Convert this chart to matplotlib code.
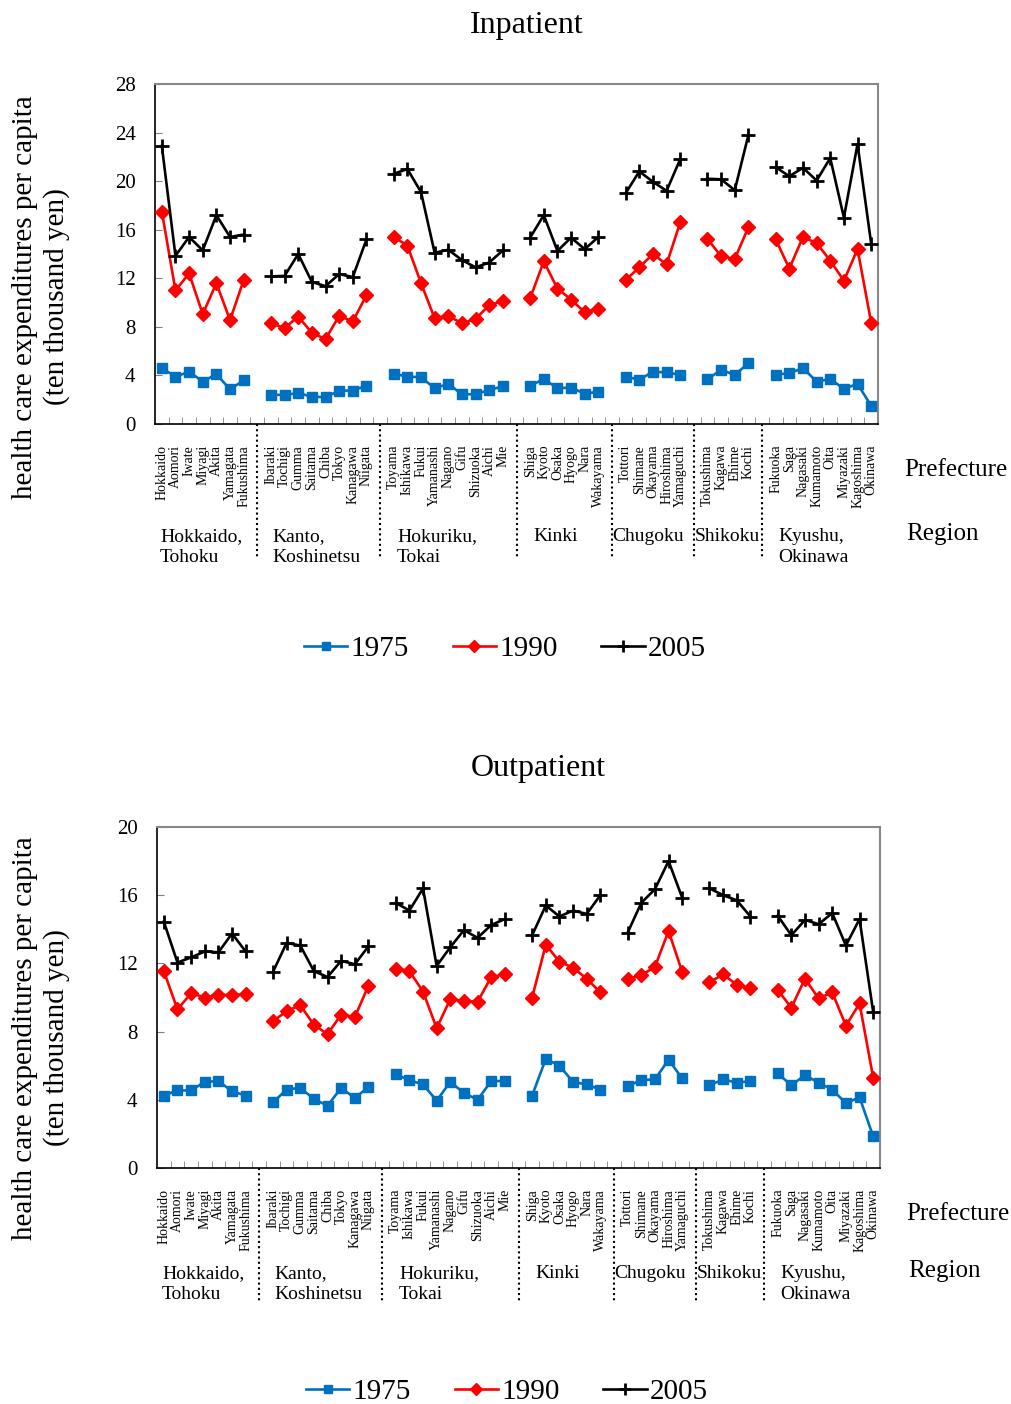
import numpy as np
import matplotlib
matplotlib.use("Agg")
import matplotlib.pyplot as plt
from matplotlib.lines import Line2D

plt.rcParams['font.family'] = ['Liberation Serif', 'DejaVu Serif']

# regions and prefectures (in chart order)
regions = ["Hokkaido,\nTohoku", "Kanto,\nKoshinetsu", "Hokuriku,\nTokai", "Kinki",
           "Chugoku", "Shikoku", "Kyushu,\nOkinawa"]
region_prefs = [
    ["Hokkaido", "Aomori", "Iwate", "Miyagi", "Akita", "Yamagata", "Fukushima"],
    ["Ibaraki", "Tochigi", "Gumma", "Saitama", "Chiba", "Tokyo", "Kanagawa", "Niigata"],
    ["Toyama", "Ishikawa", "Fukui", "Yamanashi", "Nagano", "Gifu", "Shizuoka", "Aichi", "Mie"],
    ["Shiga", "Kyoto", "Osaka", "Hyogo", "Nara", "Wakayama"],
    ["Tottori", "Shimane", "Okayama", "Hiroshima", "Yamaguchi"],
    ["Tokushima", "Kagawa", "Ehime", "Kochi"],
    ["Fukuoka", "Saga", "Nagasaki", "Kumamoto", "Oita", "Miyazaki", "Kagoshima", "Okinawa"],
]
years = ["1975", "1990", "2005"]

# inpatient, ten thousand yen per capita
in_1975 = [4.6, 3.9, 4.3, 3.5, 4.1, 2.85, 3.6,
           2.4, 2.4, 2.55, 2.25, 2.2, 2.75, 2.75, 3.15,
           4.15, 3.9, 3.85, 2.95, 3.3, 2.45, 2.45, 2.8, 3.1,
           3.15, 3.7, 2.95, 3.0, 2.5, 2.65,
           3.9, 3.65, 4.3, 4.25, 4.05,
           3.7, 4.45, 4.05, 5.0,
           4.05, 4.2, 4.6, 3.5, 3.7, 2.9, 3.3, 1.5]
in_1990 = [17.5, 11.0, 12.4, 9.05, 11.6, 8.55, 11.85,
           8.3, 7.9, 8.85, 7.5, 7.0, 8.9, 8.45, 10.6,
           15.4, 14.7, 11.6, 8.7, 8.9, 8.3, 8.65, 9.8, 10.1,
           10.35, 13.4, 11.15, 10.25, 9.2, 9.5,
           11.85, 12.9, 14.0, 13.15, 16.6,
           15.25, 13.8, 13.6, 16.2,
           15.2, 12.8, 15.4, 14.9, 13.45, 11.8, 14.4, 8.35]
in_2005 = [22.9, 13.85, 15.4, 14.3, 17.2, 15.4, 15.6,
           12.15, 12.2, 14.0, 11.7, 11.35, 12.35, 12.1, 15.2,
           20.6, 21.0, 19.1, 14.1, 14.35, 13.5, 12.9, 13.3, 14.3,
           15.35, 17.2, 14.25, 15.35, 14.4, 15.4,
           19.0, 20.8, 19.95, 19.2, 21.8,
           20.2, 20.15, 19.25, 23.8,
           21.15, 20.4, 21.1, 20.05, 21.9, 17.0, 23.05, 14.85]

# outpatient
out_1975 = [4.25, 4.55, 4.55, 5.05, 5.1, 4.5, 4.25,
            3.85, 4.6, 4.7, 4.05, 3.65, 4.7, 4.1, 4.75,
            5.5, 5.15, 4.9, 3.95, 5.05, 4.4, 4.0, 5.1, 5.1,
            4.25, 6.4, 6.0, 5.05, 4.9, 4.6,
            4.8, 5.15, 5.2, 6.35, 5.25,
            4.85, 5.2, 5.0, 5.1,
            5.55, 4.85, 5.45, 5.0, 4.6, 3.8, 4.15, 1.85]
out_1990 = [11.55, 9.3, 10.25, 10.0, 10.15, 10.15, 10.2,
            8.6, 9.2, 9.55, 8.4, 7.85, 9.0, 8.85, 10.7,
            11.7, 11.55, 10.35, 8.2, 9.9, 9.8, 9.75, 11.2, 11.35,
            10.0, 13.1, 12.1, 11.75, 11.1, 10.3,
            11.1, 11.3, 11.8, 13.9, 11.5,
            10.9, 11.35, 10.75, 10.55,
            10.45, 9.4, 11.1, 9.95, 10.3, 8.35, 9.65, 5.3]
out_2005 = [14.45, 12.05, 12.35, 12.7, 12.65, 13.75, 12.7,
            11.5, 13.2, 13.05, 11.55, 11.2, 12.15, 11.95, 13.0,
            15.55, 15.1, 16.4, 11.85, 12.95, 13.95, 13.5, 14.25, 14.6,
            13.65, 15.4, 14.75, 15.1, 14.9, 16.0,
            13.8, 15.55, 16.35, 18.0, 15.85,
            16.4, 16.0, 15.7, 14.75,
            14.8, 13.65, 14.55, 14.3, 14.95, 13.05, 14.6, 9.15]

colors = ["#0070C0", "#FF0000", "#000000"]
markers = ["s", "D", "+"]
msizes = [7.5, 7, 10]

# build slots: one empty slot between regions (line breaks there)
labels = []
gap_slots = []
region_start = []
for i, prefs in enumerate(region_prefs):
    if i > 0:
        gap_slots.append(len(labels))
        labels.append("")
    region_start.append(len(labels))
    labels.extend(prefs)
nslots = len(labels)


def to_slots(vals):
    out = []
    k = 0
    for lab in labels:
        if lab == "":
            out.append(np.nan)
        else:
            out.append(vals[k])
            k += 1
    return np.array(out)


fig = plt.figure(figsize=(10.11, 14.04), dpi=100)
W, H = 1011, 1404


def panel(rect, title, title_xy, series, ymax, ylab_xy, region_y, region_lab_y, leg_y):
    l, t, r, b = rect
    ax = fig.add_axes([l / W, 1 - b / H, (r - l) / W, (b - t) / H])
    x = np.arange(nslots)
    for vals, c, m, ms in zip(series, colors, markers, msizes):
        ax.plot(x, to_slots(vals), color=c, lw=1.9, marker=m, ms=ms,
                mew=2 if m == "+" else 1, mec=c, mfc=c, clip_on=False, zorder=3)
    ax.set_xlim(-0.5, nslots - 0.5)
    ax.set_ylim(0, ymax)
    ax.set_yticks(np.arange(0, ymax + 1, 4))
    ax.tick_params(axis='y', direction='in', length=5, color='#808080', labelsize=15, pad=14)
    ax.set_xticks(x)
    ax.set_xticklabels(labels, rotation=90, fontsize=10)
    ax.tick_params(axis='x', length=0, pad=15)
    ax.set_xticks(np.arange(0.5, nslots - 0.5), minor=True)
    ax.tick_params(axis='x', which='minor', direction='in', length=5, color='#808080')
    for s in ["top", "right"]:
        ax.spines[s].set_color('#888888')
        ax.spines[s].set_linewidth(1.5)
    for s in ["left", "bottom"]:
        ax.spines[s].set_color('black')
        ax.spines[s].set_linewidth(1.2)
    trans = ax.get_xaxis_transform()
    for g in gap_slots:
        ax.plot([g, g], [0, -0.39], transform=trans, color='black', lw=1.5,
                ls=(0, (1, 1.5)), clip_on=False)
    offsets = [0.37, 0.6, 0.75, 0.75, -0.45, -0.4, 0.7]
    for name, st, off in zip(regions, region_start, offsets):
        ax.text(st - 0.5 + off, region_y, name, transform=trans, ha='left', va='top',
                fontsize=14, linespacing=1.3)
    ax.text(1.036, -0.135, "Prefecture", transform=ax.transAxes, ha='left',
            va='center', fontsize=18)
    ax.text(1.039, region_lab_y, "Region", transform=ax.transAxes, ha='left',
            va='center', fontsize=18)
    fig.text(title_xy[0] / W, 1 - title_xy[1] / H, title, ha='center', va='center', fontsize=23)
    fig.text(ylab_xy[0] / W, 1 - ylab_xy[1] / H,
             "health care expenditures per capita\n(ten thousand yen)",
             rotation=90, ha='center', va='center', fontsize=21, linespacing=1.25)
    handles = [Line2D([], [], color=c, lw=1.9, marker=m, ms=ms * 0.85,
                      mew=2 if m == "+" else 1, mec=c, mfc=c)
               for c, m, ms in zip(colors, markers, msizes)]
    ax.legend(handles, years, loc='center', bbox_to_anchor=(0.484, leg_y), ncol=3,
              frameon=False, fontsize=21, handlelength=1.5, handletextpad=0.1,
              columnspacing=1.5)
    return ax


panel((155, 84, 878, 424), "Inpatient", (527, 25), [in_1975, in_1990, in_2005], 28,
      (41, 297), -0.305, -0.324, -0.662)
panel((157, 827, 880, 1168), "Outpatient", (538, 768), [out_1975, out_1990, out_2005], 20,
      (41, 1038), -0.285, -0.302, -0.656)

fig.savefig("out.png", dpi=100)
